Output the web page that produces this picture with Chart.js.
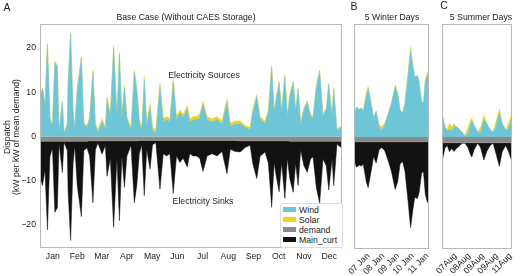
<!DOCTYPE html>
<html>
<head>
<meta charset="utf-8">
<script src="https://cdn.jsdelivr.net/npm/chart.js@4.4.1/dist/chart.umd.min.js"></script>
<style>
  body { margin: 0; background: #fff; font-family: "Liberation Sans", Arial, sans-serif; color: #222; }
  #wrap { position: relative; width: 520px; height: 276px; overflow: hidden; }
  canvas { position: absolute; left: 0; top: 0; }
  .t { position: absolute; white-space: nowrap; font-size: 8.7px; line-height: 1; transform: translate(-50%, -50%); }
  .rot { transform: translate(-50%, -50%) rotate(-90deg); }
  .big { font-size: 10.5px; }
  #legend { position: absolute; left: 280px; top: 203px; width: 61px; height: 43px; background: #fff;
            border: 1px solid #ddd; border-radius: 2px; font-size: 8.7px; }
  #legend div { position: absolute; left: 18px; white-space: nowrap; line-height: 1; }
  #legend span { position: absolute; left: -16px; top: 1px; width: 13px; height: 5px; }
</style>
</head>
<body>
<div id="wrap">
  <canvas id="chartA" width="520" height="276"></canvas>
  <canvas id="chartB" width="520" height="276"></canvas>
  <canvas id="chartC" width="520" height="276"></canvas>

  <div class="t big" style="left:7px;top:7px">A</div>
  <div class="t big" style="left:354px;top:6px">B</div>
  <div class="t big" style="left:444px;top:5px">C</div>
  <div class="t" style="left:186px;top:17px">Base Case (Without CAES Storage)</div>
  <div class="t" style="left:392px;top:17px">5 Winter Days</div>
  <div class="t" style="left:481px;top:17px">5 Summer Days</div>
  <div class="t" style="left:204px;top:75px">Electricity Sources</div>
  <div class="t" style="left:203px;top:201px">Electricity Sinks</div>
  <div class="t rot" style="left:7px;top:137px">Dispatch</div>
  <div class="t rot" style="left:16px;top:137px">(kW per kW of mean demand)</div>
  <div id="legend"></div>
</div>

<script>
// ---- DATA ----
const seriesNames = ["Wind", "Solar", "demand", "Main_curt"];
const seriesColors = ["#6ec5d6", "#f3d41a", "#8a8a8a", "#111111"];

const months = ["Jan", "Feb", "Mar", "Apr", "May", "Jun", "Jul", "Aug", "Sep", "Oct", "Nov", "Dec"];
const monthMid = [15.5, 45, 74.5, 105, 135.5, 166, 196.5, 227.5, 258, 288.5, 319, 349.5];
const yTicks = [-20, -10, 0, 10, 20];

// panel A: whole year, day of year
const yearDays = [0, 3, 6, 9, 12, 15, 18, 21, 23, 27, 29, 33, 34, 37, 40, 42, 45, 50, 53, 57,
  60, 64, 67, 70, 75, 79, 81, 85, 89, 93, 96, 99, 102, 105, 110, 114, 117,
  120, 123, 126, 129, 133, 136, 140, 145, 149, 153, 157, 161, 165, 169, 173, 178, 181, 185, 189, 193, 197, 202, 208, 214, 220, 226, 230, 236,
  242, 248, 254, 257, 262, 266, 272, 276, 280, 283, 286, 289, 292, 296, 299,
  302, 306, 309, 312, 315, 319, 323, 327, 330, 334, 338, 342, 346, 349, 353, 355, 359, 361, 365];
const yearWind = [8.7, 10.7, 7.2, 20.7, 4.2, 2.2, 16.7, 15.7, 1.2, 7.7, 0.7, 2.7, 12.2, 23.1, 5.7, 1.7, 10.7, 17.7, 2.7, 2.2,
  4.0, 14.5, 2.5, 1.0, 3.5, 1.5, 8.5, 4.5, 20.0, 4.5, 18.5, 4.0, 11.0, 4.0, 1.5, 14.5, 10.5,
  3.3, 1.3, 12.8, 2.3, 6.8, 1.3, 0.8, 11.3, 3.3, 3.8, 3.3, 12.3, 3.8, 5.3, 4.3, 6.3, 3.3, 3.8, 3.8, 4.3, 7.3, 3.8, 3.3, 3.8, 2.8, 7.8, 2.3, 2.8,
  3.0, 2.0, 1.5, 5.5, 9.0, 4.0, 3.0, 5.5, 15.5, 5.5, 9.0, 12.0, 5.5, 13.5, 4.5,
  9.2, 12.2, 5.7, 10.7, 2.7, 6.2, 7.7, 4.7, 4.2, 11.2, 14.7, 4.7, 6.2, 11.7, 4.7, 10.7, 1.2, 1.7, 2.2];
const yearSolar = [0.3, 0.3, 0.3, 0.3, 0.3, 0.3, 0.3, 0.3, 0.3, 0.3, 0.3, 0.3, 0.3, 0.3, 0.3, 0.3, 0.3, 0.3, 0.3, 0.3,
  0.5, 0.5, 0.5, 0.5, 0.5, 0.5, 0.5, 0.5, 0.5, 0.5, 0.5, 0.5, 0.5, 0.5, 0.5, 0.5, 0.5,
  0.7, 0.7, 0.7, 0.7, 0.7, 0.7, 0.7, 0.7, 0.7, 0.7, 0.7, 0.7, 0.7, 0.7, 0.7, 0.7, 0.7, 0.7, 0.7, 0.7, 0.7, 0.7, 0.7, 0.7, 0.7, 0.7, 0.7, 0.7,
  0.5, 0.5, 0.5, 0.5, 0.5, 0.5, 0.5, 0.5, 0.5, 0.5, 0.5, 0.5, 0.5, 0.5, 0.5,
  0.3, 0.3, 0.3, 0.3, 0.3, 0.3, 0.3, 0.3, 0.3, 0.3, 0.3, 0.3, 0.3, 0.3, 0.3, 0.3, 0.3, 0.3, 0.3];
const yearDemand = [-1.1, -1.1, -1.1, -1.1, -1.1, -1.1, -1.1, -1.1, -1.1, -1.1, -1.1, -1.1, -1.1, -1.1, -1.1, -1.1, -1.1, -1.1, -1.1, -1.1,
  -1.0, -1.0, -1.0, -1.0, -1.0, -1.0, -1.0, -1.0, -1.0, -1.0, -1.0, -1.0, -1.0, -1.0, -1.0, -1.0, -1.0,
  -0.9, -0.9, -0.9, -0.9, -0.9, -0.9, -0.9, -0.9, -0.9, -0.9, -0.9, -0.9, -0.9, -0.9, -0.9, -0.9, -0.9, -0.9, -0.9, -0.9, -0.9, -0.9, -0.9, -0.9, -0.9, -0.9, -0.9, -0.9,
  -1.0, -1.0, -1.0, -1.0, -1.0, -1.0, -1.0, -1.0, -1.0, -1.0, -1.0, -1.0, -1.0, -1.0, -1.0,
  -1.1, -1.1, -1.1, -1.1, -1.1, -1.1, -1.1, -1.1, -1.1, -1.1, -1.1, -1.1, -1.1, -1.1, -1.1, -1.1, -1.1, -1.1, -1.1];
const yearCurt = [-8, -10, -6.5, -20, -3.5, -1.5, -16, -15, -0.5, -7, -0.2, -2, -11.5, -22.4, -5, -1, -10, -17, -2, -1.5,
  -3.5, -14, -2, -0.5, -3, -1, -8, -4, -19.5, -4, -18, -3.5, -10.5, -3.5, -1, -14, -10,
  -3, -1, -12.5, -2, -6.5, -1, -0.5, -11, -3, -3.5, -3, -12, -3.5, -5, -4, -6, -3, -3.5, -3.5, -4, -7, -3.5, -3, -3.5, -2.5, -7.5, -2, -2.5,
  -2.5, -1.5, -1, -5, -8.5, -3.5, -2.5, -5, -15, -5, -8.5, -11.5, -5, -13, -4,
  -8.5, -11.5, -5, -10, -2, -5.5, -7, -4, -3.5, -10.5, -14, -4, -5.5, -11, -4, -10, -0.5, -1, -1.5];

// panels B and C: hours from start of window
const dayTickHours = [23.5, 47.5, 71.5, 95.5, 119.5];
const winterTicks = ["07 Jan", "08 Jan", "09 Jan", "10 Jan", "11 Jan"];
const summerTicks = ["07Aug", "08Aug", "09Aug", "09Aug", "11Aug"];

const winterHours = [0, 4, 9, 12, 15, 20, 23, 27, 32, 36, 41, 45, 50, 56, 61, 67, 71, 75, 79, 83, 88, 92, 96, 99, 103, 106, 110, 113, 116, 119, 122];
const winterWind = [5.0, 6.7, 6.2, 6.5, 5.7, 9.2, 10.9, 8.3, 4.3, 5.8, 2.2, 1.5, 2.8, 5.4, 7.7, 11.2, 9.8, 6.0, 5.4, 7.7, 14.1, 19.4, 15.7, 13.4, 13.8, 12.4, 8.0, 7.7, 12.5, 13.7, 14.5];
const winterSolar = [0, 0, 0, 0, 0.3, 0.8, 0.4, 0, 0, 0, 0.5, 0.8, 0.2, 0, 0, 0.5, 0.2, 0, 0, 0, 0.3, 0.9, 0.3, 0, 0, 0, 0, 0, 0.3, 0.8, 0.5];
const winterDemand = [-1.1, -1.1, -1.1, -1.1, -1.1, -1.1, -1.1, -1.1, -1.1, -1.1, -1.1, -1.1, -1.1, -1.1, -1.1, -1.1, -1.1, -1.1, -1.1, -1.1, -1.1, -1.1, -1.1, -1.1, -1.1, -1.1, -1.1, -1.1, -1.1, -1.1, -1.1];
const winterCurt = [-4.0, -5.7, -5.2, -5.5, -5.0, -9.0, -10.3, -7.3, -3.3, -4.8, -1.7, -1.3, -2.0, -4.4, -6.7, -10.7, -9.0, -5.0, -4.4, -6.7, -13.4, -19.3, -15.0, -12.4, -12.8, -11.4, -7.0, -6.7, -11.8, -13.5, -14.0];

const summerHours = [0, 5, 9, 13, 17, 21, 25, 29, 35, 40, 45, 50, 52, 56, 62, 67, 73, 78, 84, 89, 94, 100, 105, 111, 116, 122];
const summerWind = [5.3, 2.3, 1.4, 1.8, 1.3, 2.4, 2.3, 1.9, 1.1, 0.2, 0.8, 3.0, 3.8, 2.6, 1.1, 1.0, 3.9, 3.0, 1.6, 1.1, 2.4, 5.5, 3.0, 1.6, 1.8, 4.3];
const summerSolar = [0, 0, 0.2, 1.2, 1.0, 0.6, 0, 0, 0, 0.2, 1.2, 0.8, 0.4, 0, 0, 1.0, 1.0, 0, 0, 0, 1.0, 0.8, 0, 0, 1.2, 1.0];
const summerDemand = [-1.3, -1.3, -1.3, -1.3, -1.3, -1.3, -1.3, -1.3, -1.3, -1.3, -1.3, -1.3, -1.3, -1.3, -1.3, -1.3, -1.3, -1.3, -1.3, -1.3, -1.3, -1.3, -1.3, -1.3, -1.3, -1.3];
const summerCurt = [-4.3, -1.3, -0.6, -2.0, -1.3, -2.0, -1.3, -0.9, -0.1, -0.1, -1.0, -2.8, -3.2, -1.6, -0.1, -1.0, -3.9, -2.0, -0.6, -0.1, -2.4, -5.3, -2.0, -0.6, -2.0, -4.3];

// ---- helpers ----
const FONT = { family: "'Liberation Sans', Arial, sans-serif", size: 8.7 };

// grey box round each plot area
const framePlugin = {
    id: "frame",
    afterDatasetsDraw(chart) {
        const a = chart.chartArea;
        const ctx = chart.ctx;
        ctx.save();
        ctx.strokeStyle = "#b8b8b8";
        ctx.lineWidth = 1;
        ctx.strokeRect(Math.round(a.left) + 0.5, Math.round(a.top) + 0.5,
            Math.round(a.right - a.left) - 1, Math.round(a.bottom - a.top) - 1);
        ctx.restore();
    }
};

function buildDatasets(xs, series) {
    const fills = ["origin", "-1", "origin", "-1"];
    return series.map((vals, k) => ({
        label: seriesNames[k],
        data: xs.map((x, i) => ({ x: x, y: vals[i] })),
        backgroundColor: seriesColors[k],
        borderColor: seriesColors[k],
        borderWidth: 0.5,
        fill: fills[k],
        pointRadius: 0,
        tension: 0
    }));
}

function makePanel(id, xs, series, xMax, tickVals, tickLabels, padding, rotated, showY) {
    new Chart(document.getElementById(id), {
        type: "line",
        data: { datasets: buildDatasets(xs, series) },
        options: {
            responsive: false,
            animation: false,
            layout: { padding: padding },
            plugins: { legend: { display: false }, tooltip: { enabled: false } },
            scales: {
                x: {
                    type: "linear",
                    min: 0,
                    max: xMax,
                    grid: { display: false, drawTicks: false },
                    border: { display: false },
                    afterBuildTicks: ax => { ax.ticks = tickVals.map(v => ({ value: v })); },
                    afterFit: ax => { ax.height = rotated ? 27 : 28; },
                    ticks: {
                        autoSkip: false,
                        minRotation: rotated ? 45 : 0,
                        maxRotation: rotated ? 45 : 0,
                        padding: rotated ? 2 : 3,
                        color: "#222",
                        font: FONT,
                        callback: (v, i) => tickLabels[i]
                    }
                },
                y: {
                    stacked: true,
                    display: showY,
                    min: -25.2,
                    max: 25.4,
                    grid: { display: false, drawTicks: false },
                    border: { display: false },
                    afterBuildTicks: ax => { ax.ticks = yTicks.map(v => ({ value: v })); },
                    afterFit: ax => { ax.width = showY ? 40 : 0; },
                    ticks: {
                        padding: 4,
                        color: "#222",
                        font: FONT,
                        callback: v => (v < 0 ? "\u2212" + Math.abs(v) : String(v))
                    }
                }
            }
        },
        plugins: [framePlugin]
    });
}

makePanel("chartA", yearDays, [yearWind, yearSolar, yearDemand, yearCurt], 365,
    monthMid, months, { left: 0, top: 24, right: 178, bottom: 0 }, false, true);
makePanel("chartB", winterHours, [winterWind, winterSolar, winterDemand, winterCurt], 122,
    dayTickHours, winterTicks, { left: 354, top: 24, right: 91, bottom: 0 }, true, false);
makePanel("chartC", summerHours, [summerWind, summerSolar, summerDemand, summerCurt], 122,
    dayTickHours, summerTicks, { left: 442, top: 24, right: 3, bottom: 0 }, true, false);

// legend box inside panel A
const legend = document.getElementById("legend");
seriesNames.forEach((name, k) => {
    const row = document.createElement("div");
    row.style.top = (2 + k * 10) + "px";
    row.innerHTML = '<span style="background:' + seriesColors[k] + '"></span>' + name;
    legend.appendChild(row);
});
</script>
</body>
</html>
